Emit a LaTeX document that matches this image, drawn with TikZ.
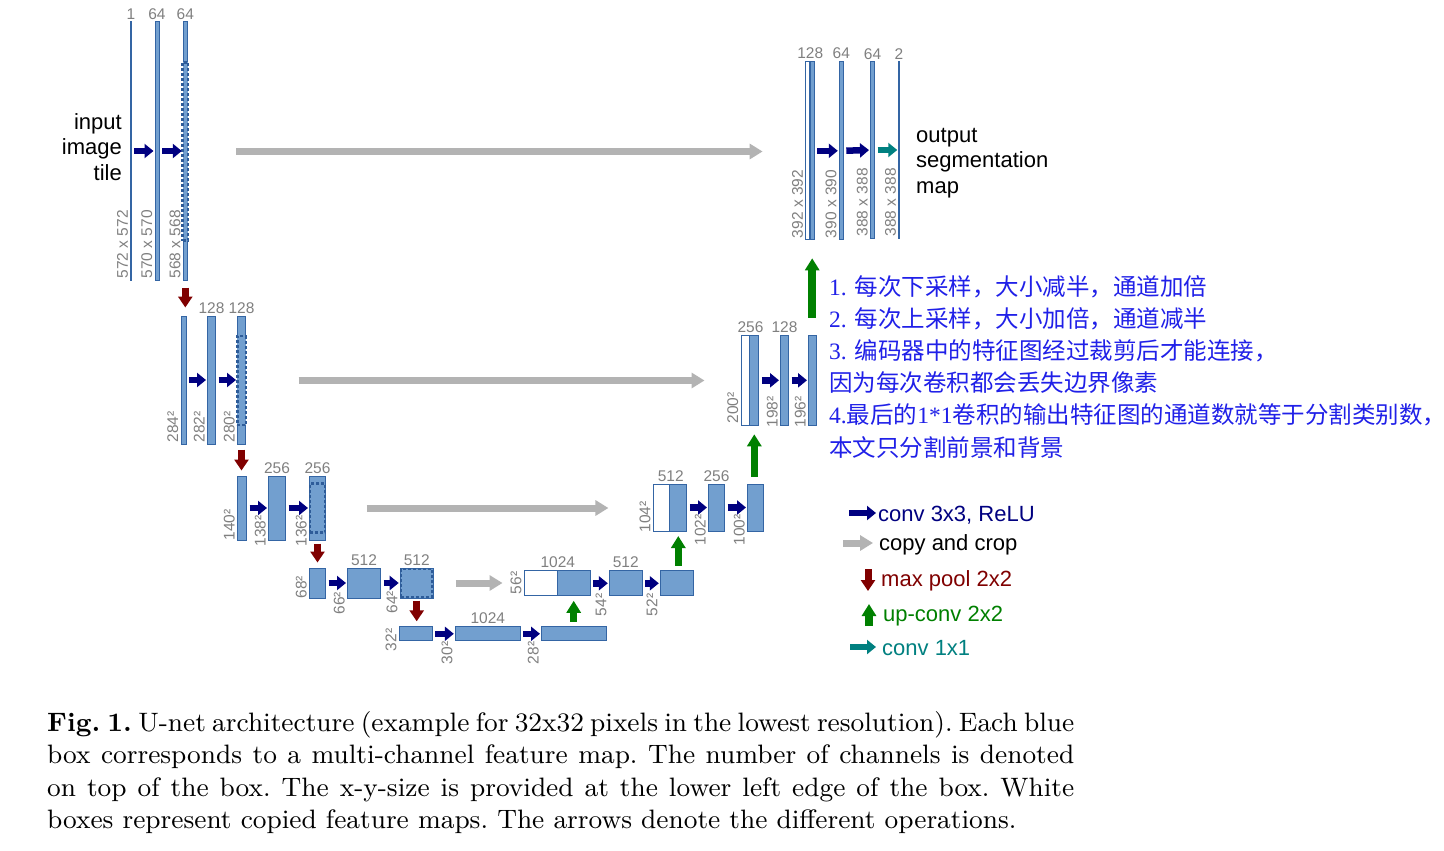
\documentclass[tikz,border=0pt]{standalone}
\usepackage{fontspec}
\usepackage{graphicx}
\newfontfamily\arialfont{Liberation Sans}
\newfontfamily\timesfont{Liberation Serif}
\newfontfamily\cjkfont{Noto Sans CJK SC}
\definecolor{UNfill}{HTML}{729FCF}
\definecolor{UNedge}{HTML}{3465A4}
\definecolor{UNdash}{HTML}{2E5C99}
\definecolor{UNnavy}{HTML}{000080}
\definecolor{UNred}{HTML}{800000}
\definecolor{UNgreen}{HTML}{008000}
\definecolor{UNteal}{HTML}{008080}
\definecolor{UNgray}{HTML}{B3B3B3}
\definecolor{UNlabel}{HTML}{808080}
\definecolor{UNnote}{HTML}{2020E8}
\usetikzlibrary{arrows.meta, positioning}

\begin{document}
\begin{tikzpicture}[x=1pt, y=-1pt,
   fmap/.style={draw=UNedge, fill=UNfill, line width=1pt, inner sep=0pt},
   cmap/.style={draw=UNedge, fill=white, line width=1pt, inner sep=0pt},
   crop/.style={draw=UNdash, fill=UNfill, line width=2.5pt, dash pattern=on 3pt off 2pt, inner sep=0pt},
   chan/.style={anchor=south, inner sep=2pt, text=UNlabel, font=\arialfont\fontsize{15.5}{17}\selectfont},
   sizelab/.style={rotate=90, anchor=south west, inner sep=2pt, text=UNlabel, font=\arialfont\fontsize{15.5}{17}\selectfont},
   conv/.style={UNnavy, line width=6.5pt, -{Triangle[length=9pt, width=14pt]}, shorten <=2.5pt, shorten >=1pt},
   final/.style={conv, UNteal},
   copy/.style={UNgray, line width=7pt, -{Triangle[length=13pt, width=15pt]}},
   pool/.style={UNred, line width=7pt, -{Triangle[length=11pt, width=14pt]}, shorten <=5pt, shorten >=5pt},
   up/.style={UNgreen, line width=7.5pt, -{Triangle[length=12pt, width=14pt]}, shorten <=4.5pt, shorten >=4.5pt},
   textlab/.style={inner sep=0pt, font=\arialfont\fontsize{22}{25.5}\selectfont},
   legend/.style={anchor=west, inner sep=2pt, font=\arialfont\fontsize{22}{25}\selectfont}]

   \useasboundingbox[fill=white] (0,0) rectangle (1444,851);

   % Contracting path, level 1
   \node[fmap, minimum width=0.5pt, minimum height=258pt] (d1a) at (131,151) {};
   \node[fmap, minimum width=4pt, minimum height=258pt] (d1b) at (157,151) {};
   \node[fmap, minimum width=4pt, minimum height=258pt] (d1c) at (185.3,151) {};
   \node[crop, minimum width=5.5pt, minimum height=178pt] (d1x) at (185.3,151.5) {};
   \node[chan] (c1a) at (d1a.north) {1};
   \node[chan] (c1b) at (d1b.north) {64};
   \node[chan] (c1c) at (d1c.north) {64};
   \node[sizelab] (s1a) at (d1a.south west) {572 x 572};
   \node[sizelab] (s1b) at (d1b.south west) {570 x 570};
   \node[sizelab] (s1c) at (d1c.south west) {568 x 568};
   \node[textlab, anchor=east, align=right] (inlab) at (122,147) {input\\image\\tile};

   % Contracting path, level 2
   \node[fmap, minimum width=5pt, minimum height=128pt] (d2a) at (183.5,380) {};
   \node[fmap, minimum width=8pt, minimum height=128pt] (d2b) at (211.5,380) {};
   \node[fmap, minimum width=8pt, minimum height=128pt] (d2c) at (241.5,380) {};
   \node[crop, minimum width=8.5pt, minimum height=89pt] (d2x) at (241.5,380.5) {};
   \node[chan] (c2b) at (d2b.north) {128};
   \node[chan] (c2c) at (d2c.north) {128};
   \node[sizelab] (s2a) at (d2a.south west) {284²};
   \node[sizelab] (s2b) at (d2b.south west) {282²};
   \node[sizelab] (s2c) at (d2c.south west) {280²};

   % Contracting path, level 3
   \node[fmap, minimum width=9pt, minimum height=64pt] (d3a) at (242,508) {};
   \node[fmap, minimum width=17pt, minimum height=64pt] (d3b) at (277,508) {};
   \node[fmap, minimum width=16pt, minimum height=64pt] (d3c) at (317.5,508) {};
   \node[crop, minimum width=15pt, minimum height=49pt] (d3x) at (317.5,508) {};
   \node[chan] (c3b) at (d3b.north) {256};
   \node[chan] (c3c) at (d3c.north) {256};
   \node[sizelab] (s3a) at ([yshift=-2pt]d3a.south west) {140²};
   \node[sizelab] (s3b) at ([yshift=-8pt]d3b.south west) {138²};
   \node[sizelab] (s3c) at ([yshift=-8pt]d3c.south west) {136²};

   % Contracting path, level 4
   \node[fmap, minimum width=16pt, minimum height=30pt] (d4a) at (317.5,583) {};
   \node[fmap, minimum width=33pt, minimum height=30pt] (d4b) at (364,583) {};
   \node[fmap, minimum width=33pt, minimum height=30pt] (d4c) at (416.7,583) {};
   \node[crop, minimum width=31pt, minimum height=28pt] (d4x) at (416.7,583) {};
   \node[chan] (c4b) at (d4b.north) {512};
   \node[chan] (c4c) at (d4c.north) {512};
   \node[sizelab] (s4a) at ([yshift=-2pt]d4a.south west) {68²};
   \node[sizelab] (s4b) at ([yshift=-18pt]d4b.south west) {66²};
   \node[sizelab] (s4c) at ([yshift=-17pt]d4c.south west) {64²};

   % Bottom level
   \node[fmap, minimum width=33pt, minimum height=14pt] (b5a) at (415.8,633.8) {};
   \node[fmap, minimum width=65pt, minimum height=14pt] (b5b) at (487.8,633.8) {};
   \node[fmap, minimum width=65pt, minimum height=14pt] (b5c) at (574,633.8) {};
   \node[chan] (c5b) at (b5b.north) {1024};
   \node[sizelab] (s5a) at ([yshift=-12pt]b5a.south west) {32²};
   \node[sizelab] (s5b) at ([yshift=-25pt]b5b.south west) {30²};
   \node[sizelab] (s5c) at ([yshift=-25pt]b5c.south west) {28²};

   % Expansive path, level 4
   \node[cmap, minimum width=33pt, minimum height=25pt] (u4w) at (540.8,583.3) {};
   \node[fmap, minimum width=33pt, minimum height=25pt] (u4b) at (573.7,583.3) {};
   \node[fmap, minimum width=33pt, minimum height=25pt] (u4c) at (625.8,583.3) {};
   \node[fmap, minimum width=33pt, minimum height=25pt] (u4d) at (676.8,583.3) {};
   \node[chan] (c4w) at (u4w.north east) {1024};
   \node[chan] (c4u) at (u4c.north) {512};
   \node[sizelab] (s4w) at (u4w.south west) {56²};
   \node[sizelab] (s4u) at ([yshift=-22pt]u4c.south west) {54²};
   \node[sizelab] (s4d) at ([yshift=-22pt]u4d.south west) {52²};

   % Expansive path, level 3
   \node[cmap, minimum width=17pt, minimum height=47pt] (u3w) at (661.7,507.5) {};
   \node[fmap, minimum width=17pt, minimum height=47pt] (u3b) at (678.3,507.5) {};
   \node[fmap, minimum width=16pt, minimum height=47pt] (u3c) at (716.5,507.5) {};
   \node[fmap, minimum width=16pt, minimum height=47pt] (u3d) at (755.5,507.5) {};
   \node[chan] (c3w) at (u3w.north east) {512};
   \node[chan] (c3u) at (u3c.north) {256};
   \node[sizelab] (s3w) at ([yshift=-3pt]u3w.south west) {104²};
   \node[sizelab] (s3u) at ([yshift=-16pt]u3c.south west) {102²};
   \node[sizelab] (s3d) at ([yshift=-16pt]u3d.south west) {100²};

   % Expansive path, level 2
   \node[cmap, minimum width=9pt, minimum height=90pt] (u2w) at (745.5,380.3) {};
   \node[fmap, minimum width=9pt, minimum height=90pt] (u2b) at (754.3,380.3) {};
   \node[fmap, minimum width=8pt, minimum height=90pt] (u2c) at (784.5,380.3) {};
   \node[fmap, minimum width=8pt, minimum height=90pt] (u2d) at (812.5,380.3) {};
   \node[chan] (c2w) at (u2w.north east) {256};
   \node[chan] (c2u) at (u2c.north) {128};
   \node[sizelab] (s2w) at (u2w.south west) {200²};
   \node[sizelab] (s2u) at ([yshift=-4pt]u2c.south west) {198²};
   \node[sizelab] (s2d) at ([yshift=-4pt]u2d.south west) {196²};

   % Expansive path, level 1
   \node[cmap, minimum width=4pt, minimum height=178pt] (u1w) at (807.8,150.8) {};
   \node[fmap, minimum width=4pt, minimum height=178pt] (u1b) at (812.2,150.8) {};
   \node[fmap, minimum width=4pt, minimum height=178pt] (u1c) at (841.3,150.8) {};
   \node[fmap, minimum width=4pt, minimum height=176pt] (u1d) at (872.5,150) {};
   \node[fmap, minimum width=0.5pt, minimum height=176pt] (u1e) at (899,150) {};
   \node[chan] (c1w) at (u1w.north east) {128};
   \node[chan] (c1u) at (u1c.north) {64};
   \node[chan] (c1d) at (u1d.north) {64};
   \node[chan] (c1e) at (u1e.north) {2};
   \node[sizelab] (s1w) at (u1w.south west) {392 x 392};
   \node[sizelab] (s1u) at (u1c.south west) {390 x 390};
   \node[sizelab] (s1d) at (u1d.south west) {388 x 388};
   \node[sizelab] (s1e) at (u1e.south west) {388 x 388};
   \node[textlab, anchor=west, align=left] (outlab) at (916,163) {output\\segmentation\\map};

   % conv 3x3 arrows
   \draw[conv] (d1a) -- (d1b);
   \draw[conv] (d1b) -- (d1c);
   \draw[conv] (d2a) -- (d2b);
   \draw[conv] (d2b) -- (d2c);
   \draw[conv] (d3a) -- (d3b);
   \draw[conv] (d3b) -- (d3c);
   \draw[conv] (d4a) -- (d4b);
   \draw[conv] (d4b) -- (d4c);
   \draw[conv] (b5a) -- (b5b);
   \draw[conv] (b5b) -- (b5c);
   \draw[conv] (u4b) -- (u4c);
   \draw[conv] (u4c) -- (u4d);
   \draw[conv] (u3b) -- (u3c);
   \draw[conv] (u3c) -- (u3d);
   \draw[conv] (u2b) -- (u2c);
   \draw[conv] (u2c) -- (u2d);
   \draw[conv] (u1b) -- (u1c);
   \draw[conv] (u1c) -- (u1d);
   \draw[final] (u1d) -- (u1e);

   % copy and crop
   \draw[copy, shorten <=46.7pt, shorten >=42.7pt] (d1x.east) -- (d1x.east -| u1w.west);
   \draw[copy, shorten <=51.5pt, shorten >=36pt] (d2x.east) -- (d2x.east -| u2w.west);
   \draw[copy, shorten <=40.5pt, shorten >=44.3pt] (d3x.east) -- (d3x.east -| u3w.west);
   \draw[copy, shorten <=22.3pt, shorten >=21.3pt] (d4x.east) -- (d4x.east -| u4w.west);

   % max pool
   \draw[pool, shorten <=7pt, shorten >=8pt] (d1c.south) -- (d1c.south |- d2a.north);
   \draw[pool] (d2c.south) -- (d2c.south |- d3a.north);
   \draw[pool, shorten <=3pt] (d3c.south) -- (d3c.south |- d4a.north);
   \draw[pool, shorten <=2pt] (d4c.south) -- (d4c.south |- b5a.north);

   % up-conv
   \draw[up] (u4b.south |- b5c.north) -- (u4b.south);
   \draw[up] (u3b.south |- u4d.north) -- (u3b.south);
   \draw[up, shorten <=7pt, shorten >=8.5pt] (u2b.south |- u3d.north) -- (u2b.south);
   \draw[up, shorten <=17pt, shorten >=18pt] (u1b.south |- u2d.north) -- (u1b.south);

   % Notes
   \node[anchor=north west, inner sep=0pt, align=left, text=UNnote,
      font=\cjkfont\fontsize{23.5}{32.2}\selectfont] (notes) at (829,275)
      {{\timesfont 1. }每次下采样，大小减半，通道加倍\\
       {\timesfont 2. }每次上采样，大小加倍，通道减半\\
       {\timesfont 3. }编码器中的特征图经过裁剪后才能连接，\\
       因为每次卷积都会丢失边界像素\\
       {\timesfont 4.}最后的{\timesfont 1*1}卷积的输出特征图的通道数就等于分割类别数，\\
       本文只分割前景和背景};

   % Legend
   \coordinate (lg1s) at (849,513);
   \node[legend, text=UNnavy] (lg1) at (876,515) {conv 3x3, ReLU};
   \draw[conv, shorten <=0pt, shorten >=0pt] (lg1s) -- (lg1.west |- lg1s);
   \coordinate (lg2s) at (843,543);
   \node[legend, text=black] (lg2) at (877,545) {copy and crop};
   \draw[copy, shorten >=4pt] (lg2s) -- (lg2.west |- lg2s);
   \coordinate (lg3s) at (868,569);
   \coordinate (lg3e) at (868,591);
   \node[legend, text=UNred] (lg3) at (879,581) {max pool 2x2};
   \draw[pool, shorten <=0pt, shorten >=0pt] (lg3s) -- (lg3e);
   \coordinate (lg4s) at (869,626);
   \coordinate (lg4e) at (869,604);
   \node[legend, text=UNgreen] (lg4) at (881,616) {up-conv 2x2};
   \draw[up, shorten <=0pt, shorten >=0pt] (lg4s) -- (lg4e);
   \coordinate (lg5s) at (850,647);
   \node[legend, text=UNteal] (lg5) at (880,648) {conv 1x1};
   \draw[final, shorten <=0pt, shorten >=4pt] (lg5s) -- (lg5.west |- lg5s);

   % Caption
   \node[anchor=north west, inner sep=0pt] (caption) at (47,711)
      {\scalebox{2.959}{\parbox{347.1pt}{\fontsize{9}{11}\selectfont\frenchspacing
      \textbf{Fig. 1.} U-net architecture (example for 32x32 pixels in the lowest
      resolution). Each blue box corresponds to a multi-channel feature map. The
      number of channels is denoted on top of the box. The x-y-size is provided at
      the lower left edge of the box. White boxes represent copied feature maps.
      The arrows denote the different operations.}}};
\end{tikzpicture}
\end{document}
